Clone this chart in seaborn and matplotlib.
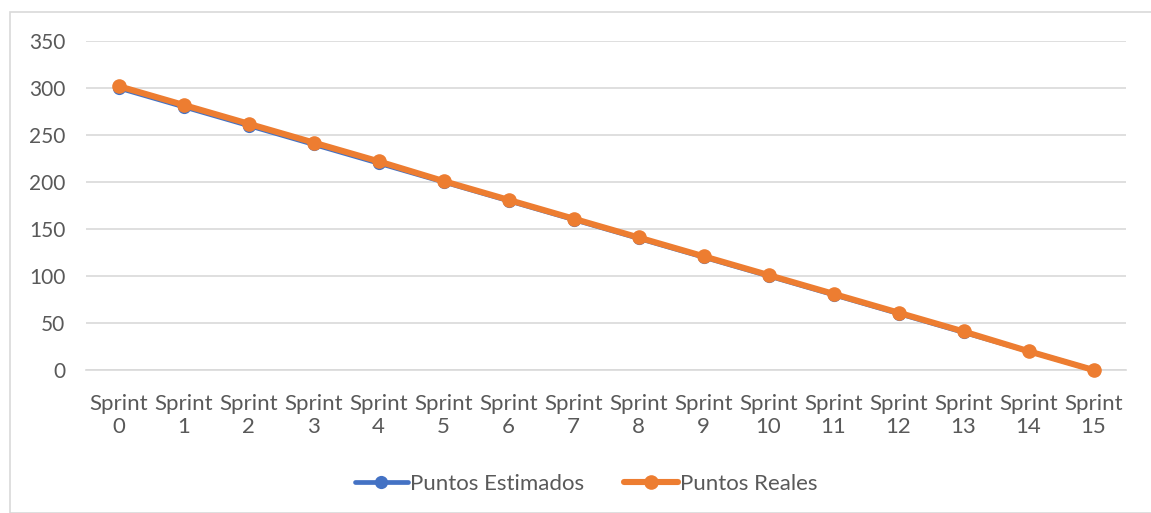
import numpy as np
import pandas as pd
import matplotlib
matplotlib.use("Agg")
import matplotlib.pyplot as plt
import seaborn as sns
from matplotlib.patches import Rectangle

# Data
sprints = [f"Sprint\n{i}" for i in range(16)]
estimados = [300, 280, 260, 240, 220, 200, 180, 160, 140, 120, 100, 80, 60, 40, 20, 0]
reales = [302, 282, 262, 242, 222, 201, 181, 161, 141, 121, 101, 81, 61, 41, 20, 0]
yticks = [0, 50, 100, 150, 200, 250, 300, 350]

sns.set_theme(style="white")
plt.rcParams['font.family'] = ['Lato', 'DejaVu Sans']

df = pd.DataFrame({"pos": np.arange(len(sprints)), "Puntos Estimados": estimados,
                   "Puntos Reales": reales})

fig = plt.figure(figsize=(11.51, 5.13), dpi=100)
ax = fig.add_axes([86 / 1151, 1 - 370 / 513, (1126 - 86) / 1151, (370 - 41) / 513])

sns.lineplot(data=df, x="pos", y="Puntos Estimados", ax=ax, color="#4472C4",
             linewidth=3.4, marker="o", markersize=9.5, markeredgewidth=0,
             label="Puntos Estimados", clip_on=False, zorder=3)
sns.lineplot(data=df, x="pos", y="Puntos Reales", ax=ax, color="#ED7D31",
             linewidth=4.4, marker="o", markersize=10.5, markeredgewidth=0,
             label="Puntos Reales", clip_on=False, zorder=4)

ax.set_xlim(-0.5, len(sprints) - 0.5)
ax.set_ylim(0, 350)
ax.set_yticks(yticks)
ax.set_xticks(df["pos"])
ax.set_xticklabels(sprints, linespacing=1.2, fontsize=16)
ax.set_xlabel("")
ax.set_ylabel("")
ax.yaxis.grid(True, color="#D9D9D9", linewidth=1.2)
ax.set_axisbelow(True)
for s in ["top", "right", "left"]:
    ax.spines[s].set_visible(False)
ax.spines["bottom"].set_color("#D9D9D9")
ax.spines["bottom"].set_linewidth(1.2)
ax.tick_params(axis="both", length=0, labelcolor="#595959")
ax.tick_params(axis="y", pad=15, labelsize=15)
ax.tick_params(axis="x", pad=17)

leg = ax.legend(loc="center", bbox_to_anchor=(586 / 1151, 1 - 484 / 513), bbox_transform=fig.transFigure,
                ncol=2, frameon=False, fontsize=16, handlelength=2.4, handletextpad=0.1,
                columnspacing=1.8)
for t in leg.get_texts():
    t.set_color("#595959")

# outer chart border
fig.patches.append(Rectangle((10 / 1151, 0), 1.2, 1 - 12 / 513, transform=fig.transFigure,
                             fill=False, edgecolor="#D9D9D9", linewidth=1.2))

fig.savefig("out.png", dpi=100)
